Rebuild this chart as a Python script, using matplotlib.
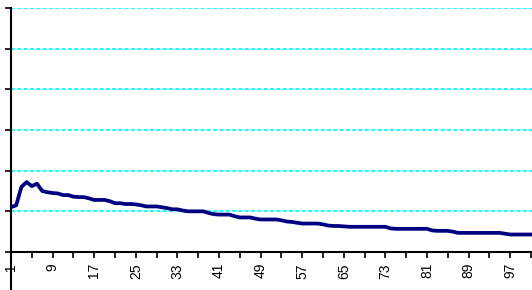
import matplotlib.pyplot as plt
import numpy as np

plt.rcParams['font.family'] = ['Liberation Sans', 'DejaVu Sans']

# series values, one per category (1..102)
values = [
    1.10, 1.15, 1.60, 1.72, 1.62, 1.68, 1.50, 1.47, 1.45, 1.44,
    1.40, 1.40, 1.36, 1.35, 1.35, 1.32, 1.28, 1.28, 1.28, 1.25,
    1.20, 1.20, 1.18, 1.18, 1.17, 1.15, 1.12, 1.12, 1.12, 1.10,
    1.08, 1.05, 1.05, 1.02, 1.00, 1.00, 1.00, 1.00, 0.96, 0.93,
    0.92, 0.92, 0.92, 0.88, 0.85, 0.85, 0.85, 0.82, 0.80, 0.80,
    0.80, 0.80, 0.78, 0.75, 0.74, 0.72, 0.70, 0.70, 0.70, 0.70,
    0.68, 0.65, 0.64, 0.64, 0.63, 0.62, 0.62, 0.62, 0.62, 0.62,
    0.62, 0.62, 0.62, 0.58, 0.57, 0.57, 0.57, 0.57, 0.57, 0.57,
    0.57, 0.53, 0.52, 0.52, 0.52, 0.50, 0.47, 0.47, 0.47, 0.47,
    0.47, 0.47, 0.47, 0.47, 0.47, 0.45, 0.43, 0.43, 0.43, 0.43,
    0.43, 0.43,
]
categories = np.arange(1, len(values) + 1)
label_cats = list(range(1, 98, 8))
y_ticks = [0, 1, 2, 3, 4, 5, 6]

fig = plt.figure(figsize=(5.32, 2.90), dpi=100)
ax = fig.add_axes([11 / 532, 38 / 290, 1 - 11 / 532, 244 / 290])

for y in y_ticks[1:]:
    ax.axhline(y, color='#00FFFF', lw=1.3, ls=(0, (2.2, 1.3)), zorder=1)

ax.plot(categories, values, color='#000080', lw=2.7, zorder=3,
        solid_joinstyle='round', solid_capstyle='round')

ax.set_xlim(1, 101.2)
ax.set_ylim(0, 6)
ax.set_yticks(y_ticks)
ax.set_yticklabels([])
ax.set_xticks(categories[::4])
ax.set_xticklabels([str(c) if c in label_cats else '' for c in categories[::4]],
                   rotation=90, fontsize=10)
ax.tick_params(axis='both', direction='out', length=4, width=1.2, color='black')
ax.tick_params(axis='x', pad=4)

for side in ['top', 'right']:
    ax.spines[side].set_visible(False)
for side in ['left', 'bottom']:
    ax.spines[side].set_linewidth(1.5)

# left axis line runs on down past the category axis
ax.axvline(categories[0], ymin=-0.16, ymax=0, color='black', lw=1.5, clip_on=False)

fig.savefig('out.png', dpi=100)
